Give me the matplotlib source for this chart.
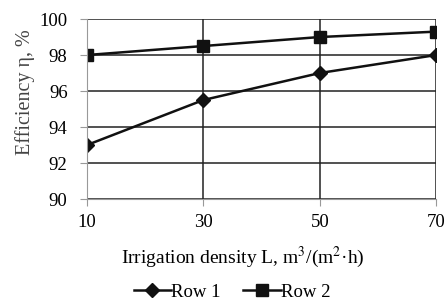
import matplotlib.pyplot as plt

L = [10, 30, 50, 70]
row1 = [93, 95.5, 97, 98]
row2 = [98, 98.5, 99, 99.3]

plt.rcParams['font.family'] = ['Liberation Serif', 'DejaVu Serif']
plt.rcParams['mathtext.fontset'] = 'stix'

fig = plt.figure(figsize=(4.46, 3.02), dpi=100)
ax = fig.add_axes([0.195, 0.341, 0.783, 0.596])

ax.plot(L, row1, color='#111111', marker='D', markersize=7, linewidth=1.8, label='Row 1')
ax.plot(L, row2, color='#111111', marker='s', markersize=8.5, linewidth=1.8, label='Row 2')

ax.set_xlim(10, 70)
ax.set_ylim(90, 100)
ax.set_xticks(L)
ax.set_yticks([90, 92, 94, 96, 98, 100])
ax.grid(True, color='#222222', linewidth=1.1)
for s in ['top', 'right']:
    ax.spines[s].set_visible(False)
for s in ['left', 'bottom']:
    ax.spines[s].set_color('#999999')
ax.tick_params(axis='both', labelsize=13.5, length=5, color='#999999')
ax.tick_params(axis='x', pad=6)
ax.tick_params(axis='y', pad=9)
ax.set_axisbelow(True)

ax.set_xlabel('Irrigation density L, m$^3$/(m$^2$·h)', fontsize=14)
ax.xaxis.set_label_coords(0.447, -0.255)
ax.set_ylabel('Efficiency η, %', fontsize=14.5, color='#444444')
ax.yaxis.set_label_coords(-0.15, 0.594)

fig.legend(loc='center', bbox_to_anchor=(0.52, 0.033), ncol=2, frameon=False,
           fontsize=13.5, handlelength=2.0, handletextpad=0.0, columnspacing=1.2)

fig.savefig('out.png', dpi=100)
